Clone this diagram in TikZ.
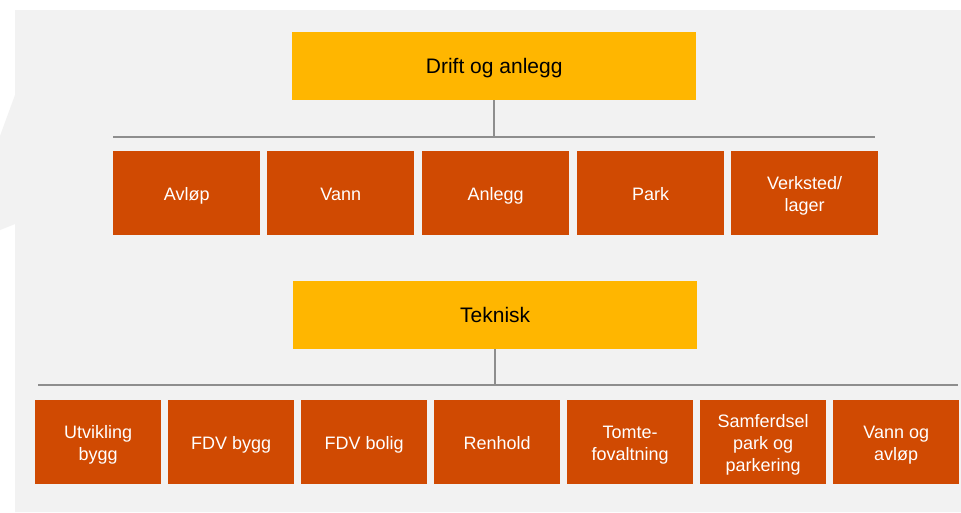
\documentclass[tikz,border=0pt]{standalone}
\usepackage{fontspec}
\setmainfont{Liberation Sans}
\definecolor{bggray}{HTML}{F2F2F2}
\definecolor{headyellow}{HTML}{FFB600}
\definecolor{unitorange}{HTML}{D04A02}
\definecolor{linegray}{HTML}{8E8E8E}
\begin{document}
\begin{tikzpicture}[x=1pt,y=-1pt,
  headbox/.style={fill=headyellow, draw=none, inner sep=0pt, anchor=north west,
    minimum width=404pt, minimum height=68pt, text=black,
    text height=15pt, text depth=0pt,
    font=\fontsize{21}{25}\selectfont},
  unitbox/.style={fill=unitorange, draw=none, inner sep=0pt, anchor=north west,
    minimum height=84pt, text=white, align=center, text depth=0pt,
    text height=14.5pt, font=\fontsize{18}{22}\selectfont},
  twolines/.style={text height=36.5pt},
  threelines/.style={text height=58.5pt},
  wideunit/.style={unitbox, minimum width=147pt},
  narrowunit/.style={unitbox, minimum width=126pt},
  tree/.style={draw=linegray, line width=2pt}
]
% page and panel
\useasboundingbox (0,0) rectangle (961,512);
\fill[white] (0,0) rectangle (961,512);
\fill[bggray] (15,10) -- (961,10) -- (961,512) -- (15,512) -- (15,224)
  -- (0,230) -- (0,136) -- (15,95) -- cycle;

% Drift og anlegg
\node[headbox] (drift) at (292,32) {Drift og anlegg};
\coordinate (dl) at (113,136.5);
\coordinate (dr) at (875,136.5);
\coordinate (dj) at (drift.south |- dl);
\draw[tree] (dl) -- (dr);
\draw[tree] (drift.south) -- (dj);

\node[wideunit] (avlop)    at (113,151) {Avløp};
\node[wideunit] (vann)     at (267,151) {Vann};
\node[wideunit] (anlegg)   at (422,151) {Anlegg};
\node[wideunit] (park)     at (577,151) {Park};
\node[wideunit, twolines] (verksted) at (731,151) {Verksted/\\lager};

% Teknisk
\node[headbox] (teknisk) at (293,281) {Teknisk};
\coordinate (tl) at (38,385);
\coordinate (tr) at (958,385);
\coordinate (tj) at (teknisk.south |- tl);
\draw[tree] (tl) -- (tr);
\draw[tree] (teknisk.south) -- (tj);

\node[narrowunit, twolines] (utvikling) at (35,400)  {Utvikling\\bygg};
\node[narrowunit] (fdvbygg)   at (168,400) {FDV bygg};
\node[narrowunit] (fdvbolig)  at (301,400) {FDV bolig};
\node[narrowunit] (renhold)   at (434,400) {Renhold};
\node[narrowunit, twolines] (tomte)     at (567,400) {Tomte-\\fovaltning};
\node[narrowunit, threelines] (samferdsel) at (700,400) {Samferdsel\\park og\\parkering};
\node[narrowunit, twolines] (vannavlop) at (833,400) {Vann og\\avløp};
\end{tikzpicture}
\end{document}
